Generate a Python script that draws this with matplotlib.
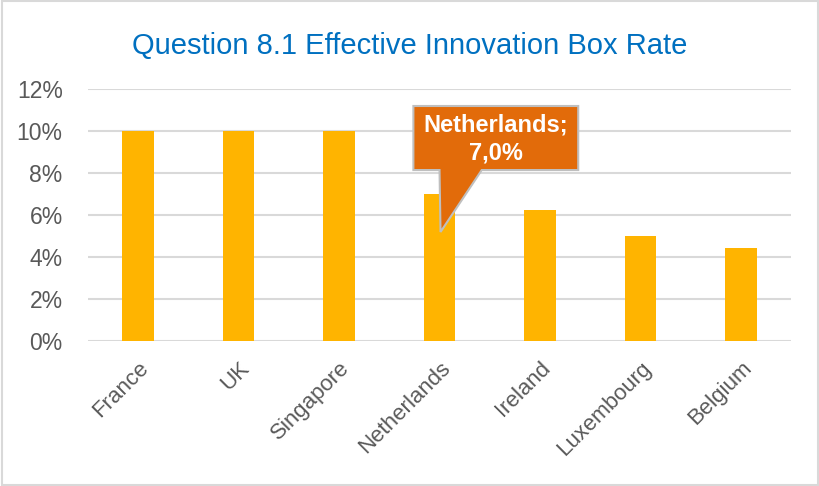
import matplotlib.pyplot as plt
from matplotlib.patches import Polygon, Rectangle

countries = ['France', 'UK', 'Singapore', 'Netherlands', 'Ireland', 'Luxembourg', 'Belgium']
rates = [10.0, 10.0, 10.0, 7.0, 6.25, 5.0, 4.43]
yticks = [0, 2, 4, 6, 8, 10, 12]
ytick_labels = ['0%', '2%', '4%', '6%', '8%', '10%', '12%']
callout_label = 'Netherlands;\n7,0%'

plt.rcParams['font.family'] = ['Liberation Sans', 'DejaVu Sans']

fig = plt.figure(figsize=(8.2, 4.86), dpi=100)
ax = fig.add_axes([0.107, 0.2984, 0.858, 0.5185])

x = range(len(countries))
ax.bar(x, rates, width=0.31, color='#FFB400', zorder=3)

ax.set_ylim(0, 12)
ax.set_xlim(-0.5, len(countries) - 0.5)
ax.set_yticks(yticks)
ax.set_yticklabels(ytick_labels)
ax.yaxis.grid(True, color='#D9D9D9', linewidth=1.5, zorder=0)
for s in ax.spines.values():
    s.set_visible(False)
ax.tick_params(axis='both', length=0, labelcolor='#595959')
ax.tick_params(axis='y', pad=18, labelsize=16.5)
ax.tick_params(axis='x', pad=12, labelsize=16)
ax.set_xticks(list(x))
ax.set_xticklabels(countries, rotation=45, ha='right', rotation_mode='anchor')

# callout for Netherlands
i = countries.index('Netherlands')
v = rates[i]
pts = [(i - 0.26, v + 4.19), (i + 1.38, v + 4.19), (i + 1.38, v + 1.14),
       (i + 0.42, v + 1.14), (i + 0.01, v - 1.81), (i, v + 1.14), (i - 0.26, v + 1.14)]
ax.add_patch(Polygon(pts, closed=True, facecolor='#E26B0A', edgecolor='#BFBFBF',
                     linewidth=1.5, zorder=5, clip_on=False))
ax.text(i + 0.56, v + 2.62, callout_label, ha='center', va='center', color='white',
        fontsize=17, fontweight='bold', zorder=6, linespacing=1.25)

fig.text(0.5, 0.905, 'Question 8.1 Effective Innovation Box Rate', ha='center', va='center',
         fontsize=21, color='#0070C0')

fig.patches.append(Rectangle((0.003, 0.003), 0.994, 0.994, transform=fig.transFigure,
                             fill=False, edgecolor='#D9D9D9', linewidth=1.5))

fig.savefig('out.png', dpi=100)
